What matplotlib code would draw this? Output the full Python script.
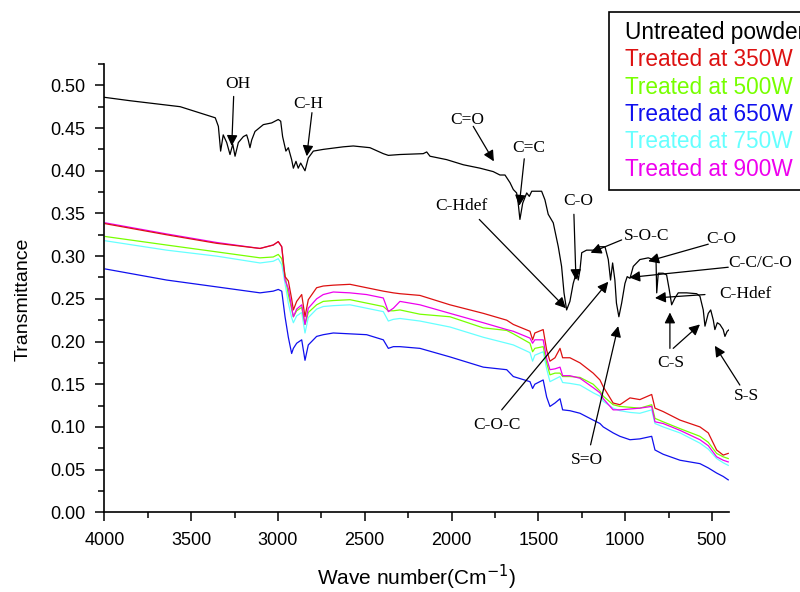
import matplotlib
matplotlib.use('Agg')
import matplotlib.pyplot as plt
from matplotlib.lines import Line2D
from matplotlib.ticker import MultipleLocator

#==============================================================================
# Spectra (wavenumber in cm-1, transmittance)
#==============================================================================
wn_untreated = [4000, 3852, 3563, 3361, 3343, 3330, 3315, 3295, 3276, 3260, 3247, 3228,
                3199, 3180, 3171, 3161, 3151, 3132, 3084, 3036, 2998, 2984, 2973, 2954,
                2940, 2921, 2911, 2896, 2883, 2869, 2844, 2825, 2796, 2739, 2624, 2566,
                2470, 2393, 2364, 2297, 2163, 2143, 2124, 2028, 1932, 1836, 1760, 1721,
                1692, 1663, 1644, 1625, 1616, 1606, 1590, 1567, 1552, 1538, 1510, 1481,
                1462, 1443, 1414, 1385, 1366, 1352, 1337, 1318, 1299, 1279, 1270, 1260,
                1250, 1222, 1184, 1145, 1116, 1097, 1084, 1072, 1059, 1050, 1036, 1020,
                1001, 988, 972, 953, 915, 867, 838, 822, 818, 809, 781, 761, 746, 732,
                713, 694, 646, 588, 569, 550, 540, 521, 507, 492, 483, 469, 454, 435,
                425, 412, 400]
untreated = [0.486, 0.482, 0.475, 0.462, 0.452, 0.423, 0.442, 0.433, 0.419, 0.431, 0.417, 0.433,
             0.440, 0.442, 0.436, 0.427, 0.436, 0.446, 0.454, 0.456, 0.460, 0.458, 0.440, 0.423,
             0.427, 0.413, 0.403, 0.411, 0.403, 0.409, 0.400, 0.415, 0.423, 0.425, 0.428, 0.429,
             0.427, 0.420, 0.418, 0.419, 0.420, 0.422, 0.417, 0.413, 0.407, 0.403, 0.399, 0.395,
             0.395, 0.386, 0.378, 0.374, 0.362, 0.343, 0.362, 0.374, 0.370, 0.376, 0.376, 0.376,
             0.366, 0.349, 0.339, 0.311, 0.288, 0.257, 0.237, 0.247, 0.268, 0.282, 0.272, 0.284,
             0.304, 0.307, 0.307, 0.311, 0.311, 0.296, 0.272, 0.292, 0.272, 0.245, 0.229, 0.245,
             0.268, 0.276, 0.274, 0.288, 0.296, 0.298, 0.296, 0.296, 0.257, 0.280, 0.280, 0.278,
             0.261, 0.243, 0.251, 0.257, 0.257, 0.256, 0.253, 0.237, 0.218, 0.233, 0.237, 0.225,
             0.214, 0.222, 0.220, 0.214, 0.206, 0.212, 0.214]

wn_treated = [3995, 3641, 3353, 3103, 3027, 2998, 2978, 2959, 2940, 2921, 2911, 2892,
              2863, 2844, 2825, 2777, 2739, 2681, 2585, 2489, 2393, 2364, 2335, 2297,
              2182, 2009, 1817, 1682, 1644, 1548, 1533, 1520, 1472, 1452, 1433, 1404,
              1375, 1360, 1318, 1260, 1184, 1145, 1126, 1069, 1030, 972, 915, 847,
              828, 781, 684, 569, 521, 473, 435, 406]
w350 = [0.338, 0.325, 0.315, 0.309, 0.313, 0.317, 0.311, 0.276, 0.271, 0.250, 0.237, 0.247,
        0.255, 0.229, 0.249, 0.263, 0.265, 0.266, 0.267, 0.263, 0.259, 0.258, 0.257, 0.256,
        0.254, 0.243, 0.233, 0.225, 0.220, 0.212, 0.202, 0.210, 0.214, 0.190, 0.177, 0.181,
        0.192, 0.181, 0.181, 0.175, 0.163, 0.155, 0.147, 0.128, 0.126, 0.134, 0.132, 0.138,
        0.122, 0.118, 0.108, 0.100, 0.093, 0.073, 0.067, 0.069]
w500 = [0.323, 0.313, 0.305, 0.298, 0.299, 0.302, 0.297, 0.278, 0.255, 0.238, 0.229, 0.236,
        0.240, 0.220, 0.234, 0.243, 0.247, 0.248, 0.249, 0.245, 0.241, 0.236, 0.236, 0.237,
        0.232, 0.229, 0.216, 0.213, 0.209, 0.198, 0.188, 0.192, 0.194, 0.175, 0.161, 0.163,
        0.163, 0.159, 0.159, 0.158, 0.150, 0.142, 0.136, 0.126, 0.124, 0.123, 0.122, 0.126,
        0.110, 0.106, 0.098, 0.089, 0.082, 0.069, 0.065, 0.063]
w650 = [0.285, 0.272, 0.264, 0.257, 0.259, 0.261, 0.259, 0.229, 0.205, 0.186, 0.192, 0.198,
        0.202, 0.178, 0.196, 0.206, 0.208, 0.210, 0.209, 0.208, 0.202, 0.192, 0.194, 0.194,
        0.192, 0.182, 0.170, 0.167, 0.159, 0.153, 0.145, 0.150, 0.155, 0.135, 0.124, 0.128,
        0.133, 0.120, 0.119, 0.116, 0.108, 0.104, 0.100, 0.093, 0.089, 0.085, 0.086, 0.089,
        0.073, 0.068, 0.061, 0.057, 0.052, 0.046, 0.042, 0.038]
w750 = [0.318, 0.307, 0.300, 0.292, 0.294, 0.297, 0.290, 0.268, 0.245, 0.228, 0.222, 0.230,
        0.234, 0.210, 0.228, 0.238, 0.241, 0.242, 0.243, 0.239, 0.235, 0.224, 0.226, 0.227,
        0.224, 0.217, 0.205, 0.198, 0.196, 0.187, 0.177, 0.184, 0.188, 0.168, 0.153, 0.156,
        0.159, 0.152, 0.151, 0.149, 0.140, 0.136, 0.130, 0.122, 0.119, 0.117, 0.116, 0.120,
        0.104, 0.100, 0.093, 0.081, 0.074, 0.063, 0.058, 0.055]
w900 = [0.339, 0.326, 0.316, 0.309, 0.313, 0.317, 0.311, 0.272, 0.262, 0.240, 0.229, 0.238,
        0.243, 0.220, 0.239, 0.250, 0.255, 0.258, 0.257, 0.255, 0.251, 0.235, 0.239, 0.247,
        0.243, 0.233, 0.222, 0.214, 0.212, 0.204, 0.198, 0.202, 0.202, 0.180, 0.167, 0.168,
        0.170, 0.160, 0.160, 0.157, 0.146, 0.140, 0.133, 0.120, 0.120, 0.121, 0.122, 0.124,
        0.106, 0.104, 0.096, 0.085, 0.078, 0.065, 0.061, 0.059]

labels = ['Untreated powder', 'Treated at 350W', 'Treated at 500W',
          'Treated at 650W', 'Treated at 750W', 'Treated at 900W']
colors = ['black', '#dd1111', '#77ff00', '#1010ee', '#66ffff', '#ee00ee']

# peak labels: (text, text position, [(arrow tail, arrow tip), ...])
peaks = [
    ('OH', (3228, 0.502), [((3255, 0.487), (3266, 0.429))]),
    ('C-H', (2825, 0.478), [((2804, 0.468), (2834, 0.417))]),
    ('C=O', (1909, 0.460), [((1875, 0.452), (1756, 0.411))]),
    ('C=C', (1558, 0.427), [((1581, 0.414), (1610, 0.359))]),
    ('C-Hdef', (1942, 0.359), [((1840, 0.343), (1341, 0.239))]),
    ('C-O', (1270, 0.365), [((1295, 0.349), (1283, 0.272))]),
    ('S-O-C', (876, 0.323), [((1020, 0.319), (1199, 0.304))]),
    ('C-O', (444, 0.320), [((521, 0.314), (867, 0.294))]),
    ('C-C/C-O', (224, 0.292), [((406, 0.287), (976, 0.275))]),
    ('C-Hdef', (310, 0.256), [((540, 0.255), (828, 0.251))]),
    ('C-S', (738, 0.175), [((742, 0.192), (742, 0.234)), ((723, 0.192), (569, 0.220))]),
    ('S-S', (300, 0.136), [((339, 0.149), (483, 0.195))]),
    ('C-O-C', (1740, 0.102), [((1711, 0.120), (1097, 0.270))]),
    ('S=O', (1222, 0.061), [((1199, 0.079), (1040, 0.218))]),
]

#==============================================================================
# Plot
#==============================================================================
plt.rcParams['font.family'] = ['Liberation Sans', 'DejaVu Sans']

fig = plt.figure(figsize=(8, 5.92), dpi=100)
ax = fig.add_axes([0.1304, 0.1346, 0.7812, 0.7573])

ax.plot(wn_treated, w750, color=colors[4], lw=0.9)
ax.plot(wn_treated, w500, color=colors[2], lw=0.9)
ax.plot(wn_treated, w650, color=colors[3], lw=0.9)
ax.plot(wn_treated, w900, color=colors[5], lw=0.9)
ax.plot(wn_treated, w350, color=colors[1], lw=0.9)
ax.plot(wn_untreated, untreated, color='black', lw=0.9)

ax.set_xlim(4000, 400)
ax.set_ylim(0, 0.525)
ax.xaxis.set_major_locator(MultipleLocator(500))
ax.xaxis.set_minor_locator(MultipleLocator(250))
ax.yaxis.set_major_locator(MultipleLocator(0.05))
ax.yaxis.set_minor_locator(MultipleLocator(0.025))
ax.yaxis.set_major_formatter(plt.FormatStrFormatter('%.2f'))
ax.spines['top'].set_visible(False)
ax.spines['right'].set_visible(False)
for s in ['left', 'bottom']:
    ax.spines[s].set_linewidth(1.2)
ax.tick_params(which='major', direction='out', length=6.3, width=1.1, labelsize=13)
ax.tick_params(which='minor', direction='out', length=4, width=1.1)
ax.tick_params(axis='y', pad=7.5)
ax.tick_params(axis='x', pad=8)

ax.set_xlabel('Wave number(Cm$^{-1}$)', fontsize=15, labelpad=10)
ax.set_ylabel('Transmittance', fontsize=14)
ax.yaxis.set_label_coords(-0.117, 0.474)

for name, pos, arrows in peaks:
    ax.text(pos[0], pos[1], name, ha='center', va='center', fontsize=12.5,
            family=['Liberation Serif', 'DejaVu Serif'])
    for tail, tip in arrows:
        ax.annotate('', xy=tip, xytext=tail,
                    arrowprops=dict(arrowstyle='-|>,head_length=0.4,head_width=0.2',
                                    color='black', lw=0.9, shrinkA=0, shrinkB=0,
                                    mutation_scale=16))

handles = [Line2D([], [], color=c) for c in colors]
leg = fig.legend(handles, labels, loc='upper left',
                 bbox_to_anchor=(609 / 800, 1 - 12 / 592), borderaxespad=0,
                 handlelength=0, handletextpad=0.3, borderpad=0.4, labelspacing=0.19,
                 fancybox=False, framealpha=1, edgecolor='black',
                 prop={'family': 'Liberation Sans', 'size': 16.3}, labelcolor=colors)
leg.get_frame().set_linewidth(1.2)

fig.savefig('out.png', dpi=100)
